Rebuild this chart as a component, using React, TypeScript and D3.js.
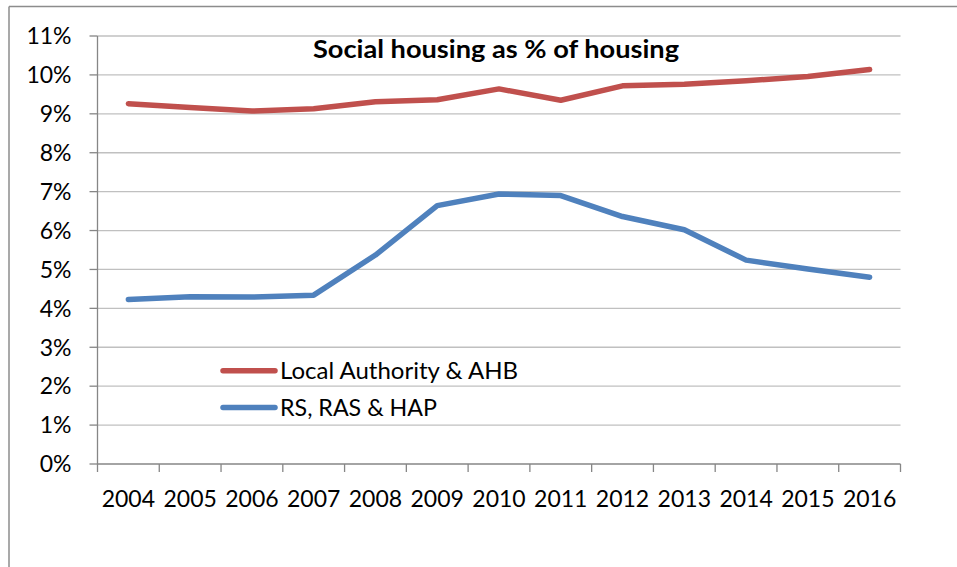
import React from "react";
import * as d3 from "d3";

const years = ["2004","2005","2006","2007","2008","2009","2010","2011","2012","2013","2014","2015","2016"];
const localAuthority = [9.26, 9.16, 9.07, 9.13, 9.31, 9.36, 9.64, 9.35, 9.72, 9.76, 9.85, 9.96, 10.14];
const rsRasHap = [4.23, 4.30, 4.29, 4.34, 5.37, 6.64, 6.94, 6.90, 6.36, 6.02, 5.24, 5.01, 4.80];
const yTicks = [0,1,2,3,4,5,6,7,8,9,10,11];
const seriesNames = ["Local Authority & AHB", "RS, RAS & HAP"];
const seriesColors = ["#C0504D", "#4F81BD"];
const legendWidths = [238, 157];
const title = "Social housing as % of housing";

const W = 957, H = 567;
const left = 97.5, right = 900.5, top = 36, bottom = 464;
const FONT = "Lato, 'Open Sans', sans-serif";

export default function App() {
  const x = d3.scaleBand<string>().domain(years).range([left, right]).padding(0);
  const y = d3.scaleLinear().domain([0, 11]).range([bottom, top]);
  const line = d3.line<number>()
    .x((_, i) => (x(years[i]) as number) + x.bandwidth() / 2)
    .y((d) => y(d));
  const series = [localAuthority, rsRasHap];
  const tickXs = years.map((yr) => x(yr) as number).concat([right]);

  return (
    <svg width={W} height={H} style={{ position: "absolute", left: 0, top: 0, background: "#fff" }}>
      <rect x={0} y={0} width={W} height={H} fill="#fff" />
      {/* outer border */}
      <line x1={9} y1={6.5} x2={W + 5} y2={6.5} stroke="#8c8c8c" strokeWidth={1.5} />
      <line x1={9} y1={6.5} x2={9} y2={H + 5} stroke="#8c8c8c" strokeWidth={1.5} />
      {/* gridlines */}
      {yTicks.filter((t) => t > 0).map((t) => (
        <line key={"g" + t} x1={left} x2={right} y1={y(t)} y2={y(t)} stroke="#c0c0c0" strokeWidth={1.3} />
      ))}
      {/* y axis */}
      <line x1={left} x2={left} y1={top} y2={bottom} stroke="#868686" strokeWidth={1.3} />
      {yTicks.map((t) => (
        <g key={"yt" + t}>
          <line x1={left - 8} x2={left} y1={y(t)} y2={y(t)} stroke="#868686" strokeWidth={1.3} />
          <text x={71.5} y={y(t)} dy="0.36em" textAnchor="end" fontFamily={FONT} fontSize={23} fill="#000">
            {t}%
          </text>
        </g>
      ))}
      {/* x axis */}
      <line x1={left} x2={right} y1={bottom} y2={bottom} stroke="#868686" strokeWidth={1.3} />
      {tickXs.map((tx, i) => (
        <line key={"xt" + i} x1={tx} x2={tx} y1={bottom} y2={bottom + 8} stroke="#868686" strokeWidth={1.3} />
      ))}
      {years.map((yr) => (
        <text key={"xl" + yr} x={(x(yr) as number) + x.bandwidth() / 2} y={507} textAnchor="middle"
          fontFamily={FONT} fontSize={23} fill="#000">{yr}</text>
      ))}
      {/* title */}
      <text x={496} y={57.5} textAnchor="middle" fontFamily={FONT} fontWeight="bold" fontSize={25}
        fill="#000" textLength={366} lengthAdjust="spacingAndGlyphs">{title}</text>
      {/* series */}
      {series.map((s, i) => (
        <path key={"s" + i} d={line(s) as string} fill="none" stroke={seriesColors[i]} strokeWidth={5.5}
          strokeLinejoin="round" strokeLinecap="round" />
      ))}
      {/* legend */}
      {seriesNames.map((n, i) => (
        <g key={"lg" + i}>
          <line x1={223} x2={275} y1={370.7 + i * 36.7} y2={370.7 + i * 36.7} stroke={seriesColors[i]}
            strokeWidth={5.5} strokeLinecap="round" />
          <text x={280} y={379 + i * 36.7} fontFamily={FONT} fontSize={23.5} fill="#000"
            textLength={legendWidths[i]} lengthAdjust="spacingAndGlyphs">{n}</text>
        </g>
      ))}
    </svg>
  );
}
